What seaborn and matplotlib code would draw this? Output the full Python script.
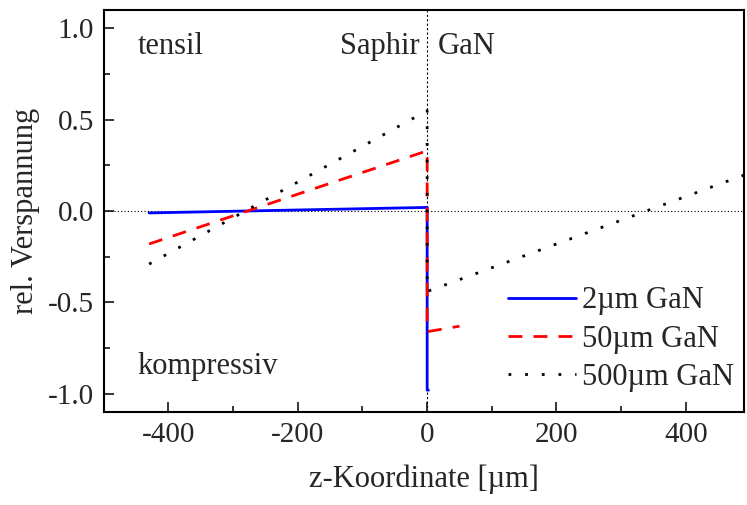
import matplotlib
matplotlib.use("Agg")
import matplotlib.pyplot as plt
import seaborn as sns
import pandas as pd
from matplotlib.ticker import MultipleLocator, FuncFormatter

# data
x_2um = [-430, 0, 0, 2]
y_2um = [-0.01, 0.02, -0.98, -0.98]
x_50um = [-430, 0, 0, 50]
y_50um = [-0.18, 0.33, -0.66, -0.63]
x_500um = [-430, 0, 0, 500]
y_500um = [-0.29, 0.55, -0.44, 0.21]
labels = ["2\u00b5m GaN", "50\u00b5m GaN", "500\u00b5m GaN"]

sns.set_theme(style="ticks", rc={"xtick.direction": "in", "ytick.direction": "in"})
plt.rcParams['font.family'] = ['Liberation Serif', 'DejaVu Serif']

fig = plt.figure(figsize=(7.47, 5.05), dpi=100)
ax = fig.add_axes([0.139, 0.184, 0.857, 0.796])

ax.axhline(0, color="black", lw=0.8, ls=(0, (1, 2)), zorder=1)
ax.axvline(0, color="black", lw=0.8, ls=(0, (2, 2)), zorder=1)

series = [
    (x_2um, y_2um, labels[0], "#0000ff", "-"),
    (x_50um, y_50um, labels[1], "#ff0000", (0, (5, 4))),
    (x_500um, y_500um, labels[2], "black", (0, (1, 5))),
]
for xs, ys, lab, col, ls in series:
    df = pd.DataFrame({"x": xs, "y": ys})
    sns.lineplot(data=df, x="x", y="y", sort=False, estimator=None, ax=ax,
                 color=col, lw=2, label=lab, zorder=3)
    ax.lines[-1].set_linestyle(ls)

ax.set_xlim(-500, 490)
ax.set_ylim(-1.1, 1.1)
ax.xaxis.set_major_locator(MultipleLocator(200))
ax.xaxis.set_minor_locator(MultipleLocator(100))
ax.yaxis.set_major_locator(MultipleLocator(0.5))
ax.yaxis.set_minor_locator(MultipleLocator(0.25))
ax.yaxis.set_major_formatter(FuncFormatter(lambda v, p: f"{v:.1f}"))
ax.xaxis.set_major_formatter(FuncFormatter(lambda v, p: f"{v:.0f}"))
ax.tick_params(which="major", direction="in", length=7, width=1.3, labelsize=21, pad=7)
ax.tick_params(which="minor", direction="in", length=4, width=1.3)
for s in ax.spines.values():
    s.set_linewidth(1.5)
    s.set_color("black")

ax.set_xlabel("z-Koordinate [\u00b5m]", fontsize=22, labelpad=12)
ax.set_ylabel("rel. Verspannung", fontsize=22, labelpad=6)

ax.text(-448, 0.90, "tensil", fontsize=22, va="center", ha="left")
ax.text(-11, 0.90, "Saphir", fontsize=22, va="center", ha="right")
ax.text(17, 0.90, "GaN", fontsize=22, va="center", ha="left")
ax.text(-448, -0.85, "kompressiv", fontsize=22, va="center", ha="left")

leg = ax.legend(loc="lower right", frameon=False, fontsize=22, handlelength=2.2,
                handletextpad=0.2, labelspacing=0.3, bbox_to_anchor=(1.027, -0.018))

fig.savefig("out.png", dpi=100)
